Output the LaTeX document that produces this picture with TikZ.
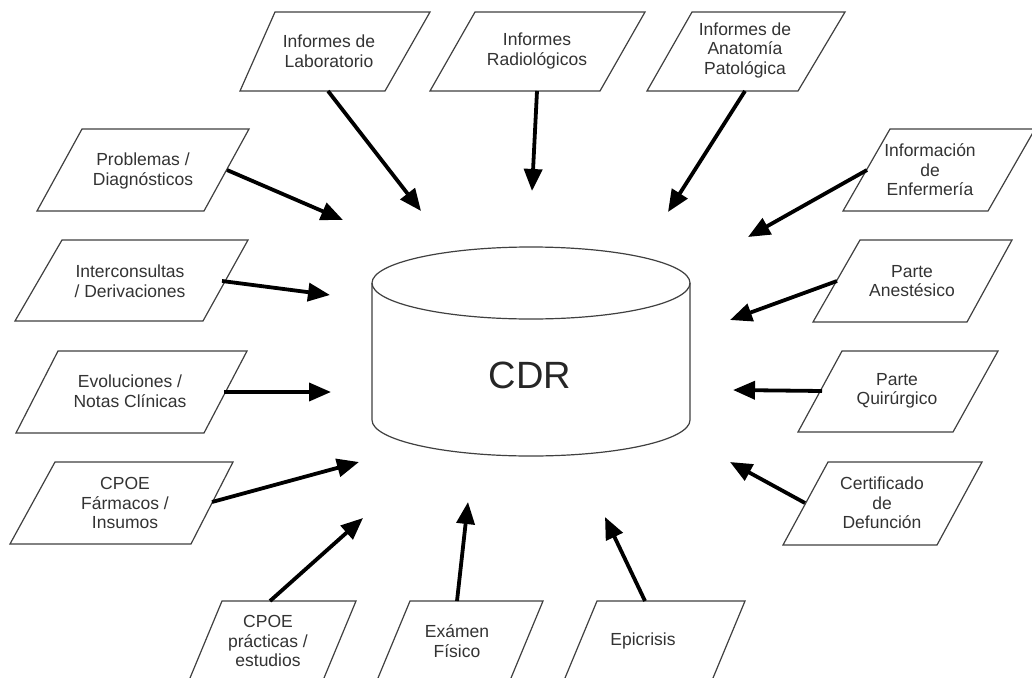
\documentclass[tikz,border=0pt]{standalone}
\usepackage{fontspec}
\setmainfont{Liberation Sans}
\usetikzlibrary{arrows.meta}
\tikzset{
  boxline/.style={draw=black!75, line width=1.2pt, fill=white},
  lbl/.style={align=center, text=black!80, font=\fontsize{17.5}{19.5}\selectfont, inner sep=0pt},
  arr/.style={line width=3.8pt, -{Triangle[length=22pt,width=18pt]}, black},
  cyl/.style={draw=black!75, line width=1.2pt},
}
\newcommand\pgram[6]{\draw[boxline] (#1,#5) -- (#2,#5) -- (#4,#6) -- (#3,#6) -- cycle;}
\begin{document}
\begin{tikzpicture}[x=1pt,y=-1pt]
\useasboundingbox (0,0) rectangle (1032,677);
\fill[white] (0,0) rectangle (1032,677);
\clip (0,0) rectangle (1032,677);
% cylinder
\draw[cyl, fill=white] (372,283) -- (372,420) arc[start angle=180, end angle=0, x radius=159, y radius=36] -- (690,283);
\draw[cyl] (531,283) ellipse[x radius=159, y radius=36];
\node[font=\fontsize{38}{38}\selectfont, text=black!85] (cdr) at (530,375) {CDR};
% top row
\pgram{275}{430}{240}{385}{12}{91}
\node[lbl] (lab) at (329,51) {Informes de\\Laboratorio};
\pgram{475}{645}{430}{600}{12}{91}
\node[lbl] (rad) at (537,51) {Informes\\Radiológicos};
\pgram{692}{845}{647}{798}{12}{91}
\node[lbl] (ana) at (745,50) {Informes de\\Anatomía\\Patológica};
% left column
\pgram{82}{249}{37}{204}{129}{211}
\node[lbl] (pro) at (143,171) {Problemas /\\Diagnósticos};
\pgram{62}{248}{15}{203}{240}{321}
\node[lbl] (int) at (130,281) {Interconsultas\\/ Derivaciones};
\pgram{58}{247}{16}{204}{351}{433}
\node[lbl] (evo) at (130,391) {Evoluciones /\\Notas Clínicas};
\pgram{55}{233}{10}{191}{462}{544}
\node[lbl] (far) at (125,503) {CPOE\\Fármacos /\\Insumos};
% right column
\pgram{890}{1035}{843}{988}{129}{211}
\node[lbl] (enf) at (930,170) {Información\\de\\Enfermería};
\pgram{860}{1012}{813}{967}{240}{322}
\node[lbl] (ane) at (912,281) {Parte\\Anestésico};
\pgram{842}{998}{798}{953}{351}{432}
\node[lbl] (qui) at (897,391) {Parte\\Quirúrgico};
\pgram{828}{982}{783}{937}{462}{545}
\node[lbl] (cer) at (882,503) {Certificado\\de\\Defunción};
% bottom row
\pgram{222}{356}{185}{319}{601}{690}
\node[lbl] (pra) at (268,641) {CPOE\\prácticas /\\estudios};
\pgram{410}{543}{373}{506}{601}{690}
\node[lbl] (exa) at (457,641) {Exámen\\Físico};
\pgram{597}{745}{560}{708}{601}{690}
\node[lbl] (epi) at (643,641) {Epicrisis};
% arrow ends
\coordinate (s1) at (328,91);  \coordinate (t1) at (421,211);
\coordinate (s2) at (537,91);  \coordinate (t2) at (532,191);
\coordinate (s3) at (745,91);  \coordinate (t3) at (668,212);
\coordinate (s4) at (227,170); \coordinate (t4) at (343,220);
\coordinate (s5) at (222,281); \coordinate (t5) at (330,295);
\coordinate (s6) at (224,392); \coordinate (t6) at (331,392);
\coordinate (s7) at (212,502); \coordinate (t7) at (359,462);
\coordinate (s8) at (270,601); \coordinate (t8) at (363,518);
\coordinate (s9) at (457,601); \coordinate (t9) at (468,502);
\coordinate (s10) at (645,601); \coordinate (t10) at (605,517);
\coordinate (s11) at (805,503); \coordinate (t11) at (730,462);
\coordinate (s12) at (822,391); \coordinate (t12) at (733,390);
\coordinate (s13) at (837,281); \coordinate (t13) at (730,320);
\coordinate (s14) at (867,170); \coordinate (t14) at (748,237);
\foreach \i in {1,...,14} {\draw[arr] (s\i) -- (t\i);}
\end{tikzpicture}
\end{document}
